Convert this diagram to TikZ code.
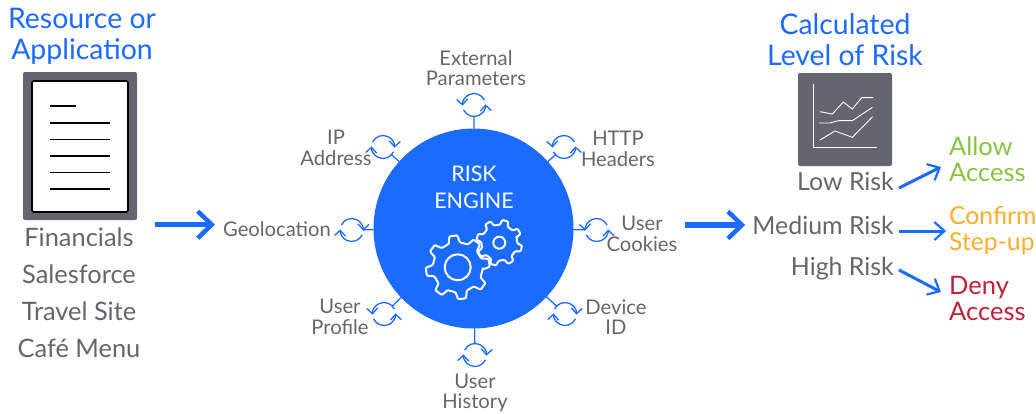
\documentclass[tikz,border=0pt]{standalone}
\usepackage{fontspec}
\setmainfont{Lato}
\usetikzlibrary{arrows.meta,calc}
\definecolor{rblue}{HTML}{1C6BFF}
\definecolor{rgrey}{HTML}{63666E}
\definecolor{rgreen}{HTML}{86C440}
\definecolor{rorange}{HTML}{FBAE2C}
\definecolor{rred}{HTML}{C1203A}
\newcommand{\fsz}[1]{\fontsize{#1}{#1}\selectfont}
\tikzset{
  title/.style={text=rblue,align=center,font=\fontsize{28.4}{30.5}\selectfont,inner sep=0pt},
  applabel/.style={text=rgrey,font=\fsz{25.4},inner sep=0pt},
  risklabel/.style={text=rgrey,font=\fsz{24.9},inner sep=0pt,anchor=east},
  factor/.style={text=rgrey,align=center,font=\fontsize{20.2}{20.5}\selectfont,inner sep=0pt},
  outcome/.style={align=left,anchor=west,font=\fontsize{25.5}{26}\selectfont,inner sep=0pt},
  syncnode/.style={circle,minimum size=23pt,inner sep=0pt,outer sep=0pt},
  spoke/.style={draw=rblue,line width=1.3pt},
  syncarc/.style={draw=rblue,line width=1.3pt,-{Straight Barb[length=5.5pt,width=11pt]}},
  bigarrow/.style={draw=rblue,line width=5.5pt,-{Straight Barb[length=14pt,width=27pt,line width=4.5pt]}},
  smallarrow/.style={draw=rblue,line width=3pt,-{Straight Barb[length=10pt,width=18pt,line width=2.2pt]}},
  gearline/.style={draw=white,line width=2pt,line join=round},
  docline/.style={draw=black,line width=1.6pt},
  chartline/.style={draw=white,line width=0.9pt}
}
% arcs of a sync icon, in an unflipped scope
\newcommand{\syncccw}[1]{%
  \begin{scope}[shift={(#1)},x=1pt,y=1pt]
  \draw[syncarc] (25:11.5) arc[start angle=25,end angle=183,radius=11.5];
  \draw[syncarc] (205:11.5) arc[start angle=205,end angle=363,radius=11.5];
  \end{scope}}
\newcommand{\synccw}[1]{%
  \begin{scope}[shift={(#1)},x=1pt,y=1pt]
  \draw[syncarc] (155:11.5) arc[start angle=155,end angle=-3,radius=11.5];
  \draw[syncarc] (335:11.5) arc[start angle=335,end angle=177,radius=11.5];
  \end{scope}}
% gear: cx cy outer root teeth phase
\newcommand{\gearshape}[6]{%
  \pgfmathsetmacro{\gstep}{360/#5}
  \begin{scope}[shift={(#1,#2)}]
  \draw[gearline,rounded corners=1pt] ({#6-0.29*\gstep}:#4pt)
    \foreach \i in {1,...,#5} {
      -- ({#6+(\i-1)*\gstep-0.16*\gstep}:#3pt)
      -- ({#6+(\i-1)*\gstep+0.16*\gstep}:#3pt)
      -- ({#6+(\i-1)*\gstep+0.29*\gstep}:#4pt)
      -- ({#6+\i*\gstep-0.29*\gstep}:#4pt)
    } -- cycle;
  \end{scope}}
\begin{document}
\begin{tikzpicture}[x=1pt,y=-1pt]
\useasboundingbox (0,0) rectangle (1036,413);
% left column
\node[title] (restitle) at (82,36.5) {Resource or\\Application};
\node[draw=none,fill=rgrey,rounded corners=2pt,minimum width=114pt,minimum height=148pt,inner sep=0pt] (docframe) at (80,146) {};
\node[draw=black,fill=white,line width=1.6pt,rounded corners=2pt,minimum width=96pt,minimum height=131pt,inner sep=0pt] (docpage) at (80,146.5) {};
\draw[docline] (50,106) -- (76,106);
\foreach \y in {123,139.5,156,172.5,189} \draw[docline] (50,\y) -- (110,\y);
\node[applabel] (fin) at (79,237) {Financials};
\node[applabel] (sales) at (79,274) {Salesforce};
\node[applabel] (travel) at (79,311) {Travel Site};
\node[applabel] (cafe) at (79,348) {Café Menu};
% engine
\node[circle,fill=rblue,minimum size=200pt,inner sep=0pt,outer sep=0pt] (engine) at (473.5,228.5) {};
\node[text=white,align=center,font=\fontsize{21.5}{27}\selectfont,inner sep=0pt] (enginelabel) at (474,187.5) {RISK\\ENGINE};
\gearshape{457.7}{267.3}{32}{25}{8}{8}
\draw[gearline] (457.7,267.3) circle[radius=13pt];
\gearshape{499.3}{242.7}{23}{18}{8}{30}
\draw[gearline] (499.3,242.7) circle[radius=6pt];
% sync nodes
\node[syncnode] (s1) at (474,105) {};
\node[syncnode] (s2) at (564,147) {};
\node[syncnode] (s3) at (596.7,230) {};
\node[syncnode] (s4) at (565,314) {};
\node[syncnode] (s5) at (475,355) {};
\node[syncnode] (s6) at (384,314) {};
\node[syncnode] (s7) at (351.7,230) {};
\node[syncnode] (s8) at (383,147) {};
\foreach \n in {s1,s2,s3,s4,s5,s6,s7,s8} \draw[spoke] (engine) -- (\n);
\syncccw{s1}\syncccw{s2}\syncccw{s3}\syncccw{s6}
\synccw{s4}\synccw{s5}\synccw{s7}\synccw{s8}
% factor labels
\node[factor] (f1) at (476,68) {External\\Parameters};
\node[factor] (f2) at (618,149) {HTTP\\Headers};
\node[factor] (f3) at (642,234) {User\\Cookies};
\node[factor] (f4) at (616,317) {Device\\ID};
\node[factor] (f5) at (475,393) {User\\History};
\node[factor] (f6) at (340,317) {User\\Profile};
\node[factor] (f7) at (277,229) {Geolocation};
\node[factor] (f8) at (336,148) {IP\\Address};
% right column
\node[title] (calctitle) at (845,39.5) {Calculated\\Level of Risk};
\node[fill=rgrey,rounded corners=2pt,minimum width=94pt,minimum height=93pt,inner sep=0pt] (chartframe) at (845,119.5) {};
\begin{scope}[shift={(780,60)},x=0.3333pt,y=-0.3333pt]
\draw[chartline] (100,73) -- (100,263) -- (290,263);
\draw[chartline] (120,155) -- (157,162) -- (190,126) -- (217,147) -- (245,113) -- (280,113);
\draw[chartline] (117,189) -- (150,189) -- (175,182) -- (217,182) -- (277,142);
\draw[chartline] (120,240) -- (165,213) -- (217,232) -- (278,170);
\end{scope}
\node[risklabel] (low) at (894,181) {Low Risk};
\node[risklabel] (med) at (894,225) {Medium Risk};
\node[risklabel] (high) at (894,269) {High Risk};
\node[outcome,text=rgreen] (allow) at (949,159) {Allow\\Access};
\node[outcome,text=rorange,font=\fontsize{24.7}{26}\selectfont] (confirm) at (949,231) {Confirm\\Step-up};
\node[outcome,text=rred] (deny) at (949,298) {Deny\\Access};
% arrows
\coordinate (in1) at (155,224.7);
\coordinate (in2) at (685,225);
\draw[bigarrow] (in1) -- ($(f7.west)+(-8,-4.3)$);
\draw[bigarrow] (in2) -- ($(med.west)+(-7,0)$);
\draw[smallarrow] ($(low.east)+(5,7)$) -- ($(allow.west)+(-8,8)$);
\draw[smallarrow] ($(med.east)+(5,6)$) -- (946,231);
\draw[smallarrow] ($(high.east)+(5,1)$) -- ($(deny.west)+(-8,-6)$);
\end{tikzpicture}
\end{document}
